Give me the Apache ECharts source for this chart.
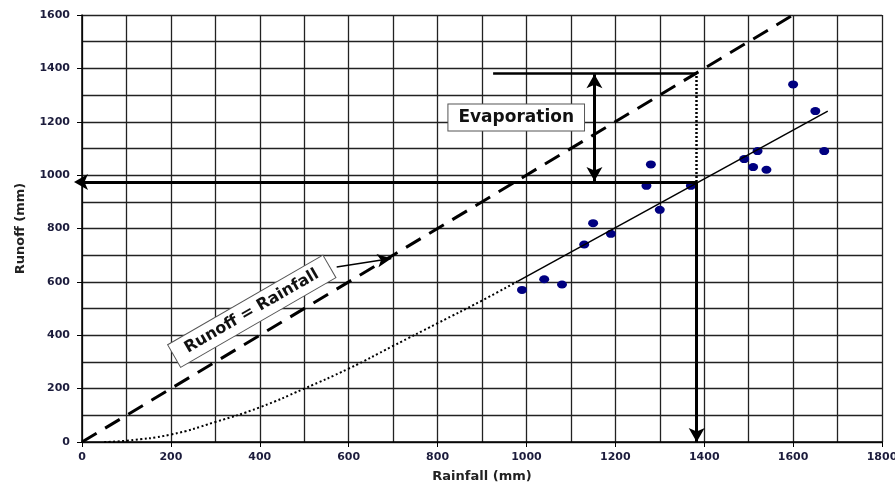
<!DOCTYPE html>
<html><head><meta charset="utf-8">
<script src="https://cdn.jsdelivr.net/npm/echarts@6/dist/echarts.min.js"></script>
<style>html,body{margin:0;padding:0;background:#fff}#c{width:895px;height:486px}</style>
</head><body><div id="c"></div>
<script>
// Observed data (Rainfall mm, Runoff mm)
const rainfall = [990, 1040, 1080, 1130, 1150, 1190, 1270, 1280, 1300, 1370, 1490, 1510, 1520, 1540, 1600, 1650, 1670];
const runoff   = [570, 610, 590, 740, 820, 780, 960, 1040, 870, 960, 1060, 1030, 1090, 1020, 1340, 1240, 1090];
// Fitted line (solid part)
const fitX = [980, 1678];
const fitY = [602, 1240];
// Extrapolated curve (dotted part)
const curveX = [50, 100, 200, 300, 400, 500, 600, 700, 800, 900, 980];
const curveY = [0, 5, 28, 75, 130, 200, 275, 360, 445, 530, 602];
// Runoff = Rainfall line
const oneToOneX = [0, 1595];
const oneToOneY = [0, 1595];
// Annotation anchor values
const meanRain = 1383, meanRunoff = 974, topLevel = 1382, topLineStart = 925;
const evapArrowX = 1153;
const xTicks = [0, 200, 400, 600, 800, 1000, 1200, 1400, 1600, 1800];
const yTicks = [0, 200, 400, 600, 800, 1000, 1200, 1400, 1600];

const pts = rainfall.map((x, i) => [x, runoff[i]]);
const fit = fitX.map((x, i) => [x, fitY[i]]);
const curve = curveX.map((x, i) => [x, curveY[i]]);
const diag = oneToOneX.map((x, i) => [x, oneToOneY[i]]);

const tickFont = {fontFamily: 'DejaVu Sans', fontWeight: 'bold', fontSize: 11, color: '#1c1c3c', formatter: v => String(v)};
const nameFont = {fontFamily: 'DejaVu Sans', fontWeight: 'bold', fontSize: 13, color: '#222'};

function arrowLine(p1, p2, s1, s2, style) {
  return [
    {coord: p1, symbol: s1, symbolSize: [12, 14]},
    {coord: p2, symbol: s2, symbolSize: [12, 14], lineStyle: style}
  ];
}
const thick = {color: '#000', width: 3, type: 'solid'};
const boxLabel = {
  show: true, position: 'inside',
  fontFamily: 'DejaVu Sans', fontWeight: 'bold', color: '#111',
  textBorderWidth: 0, textShadowBlur: 0,
  backgroundColor: '#fff', borderColor: '#555', borderWidth: 1
};

const chart = echarts.init(document.getElementById('c'));
chart.setOption({
  animation: false,
  grid: {left: 82, right: 13, top: 15, bottom: 44, containLabel: false, outerBoundsMode: 'none'},
  xAxis: {
    type: 'value', min: xTicks[0], max: xTicks[xTicks.length - 1], interval: 200,
    name: 'Rainfall (mm)', nameLocation: 'middle', nameGap: 28, nameTextStyle: nameFont,
    axisLine: {show: true, lineStyle: {color: '#000', width: 1.5}},
    axisTick: {show: true, length: 5, lineStyle: {color: '#000'}},
    axisLabel: Object.assign({margin: 10}, tickFont),
    splitLine: {show: true, lineStyle: {color: '#222', width: 1.3}},
    minorTick: {show: false, splitNumber: 2},
    minorSplitLine: {show: true, lineStyle: {color: '#222', width: 1.3}}
  },
  yAxis: {
    type: 'value', min: yTicks[0], max: yTicks[yTicks.length - 1], interval: 200,
    name: 'Runoff (mm)', nameLocation: 'middle', nameGap: 55, nameTextStyle: nameFont,
    axisLine: {show: true, lineStyle: {color: '#000', width: 1.5}},
    axisTick: {show: true, length: 5, lineStyle: {color: '#000'}},
    axisLabel: Object.assign({margin: 12}, tickFont),
    splitLine: {show: true, lineStyle: {color: '#222', width: 1.3}},
    minorTick: {show: false, splitNumber: 2},
    minorSplitLine: {show: true, lineStyle: {color: '#222', width: 1.3}}
  },
  series: [
    {
      type: 'line', data: diag, symbol: 'none', silent: true,
      lineStyle: {color: '#000', width: 3, type: [17, 10]}
    },
    {
      type: 'line', data: curve, symbol: 'none', smooth: true, silent: true,
      lineStyle: {color: '#000', width: 2, type: [2, 2.5]}
    },
    {
      type: 'line', data: fit, symbol: 'none', silent: true,
      lineStyle: {color: '#000', width: 1.5}
    },
    {
      type: 'scatter', data: pts, symbol: 'circle', symbolSize: [10, 8], clip: false,
      itemStyle: {color: '#000080', opacity: 1}, silent: true,
      markLine: {
        silent: true, animation: false,
        label: {show: false},
        emphasis: {disabled: true},
        data: [
          // horizontal arrow to runoff axis
          [
            {coord: [meanRain, meanRunoff], symbol: 'none'},
            {coord: [0, meanRunoff], symbol: 'arrow', symbolSize: [12, 14], symbolOffset: [0, -8], lineStyle: thick}
          ],
          // vertical arrow to rainfall axis
          arrowLine([meanRain, meanRunoff], [meanRain, 0], 'none', 'arrow', thick),
          // dotted vertical to top level
          arrowLine([meanRain, meanRunoff], [meanRain, topLevel], 'none', 'none', {color: '#000', width: 2.5, type: [2, 2]}),
          // top horizontal line
          arrowLine([topLineStart, topLevel], [meanRain, topLevel], 'none', 'none', {color: '#000', width: 2.5, type: 'solid'}),
          // evaporation double arrow
          arrowLine([evapArrowX, 1378], [evapArrowX, 978], 'arrow', 'arrow', thick),
          // pointer from label to 1:1 line
          [
            {coord: [573, 656], symbol: 'none'},
            {coord: [696, 688], symbol: 'arrow', symbolSize: [10, 14], lineStyle: {color: '#000', width: 1.5, type: 'solid'}}
          ]
        ]
      }
    },
    {
      type: 'scatter', silent: true, symbolSize: 0, itemStyle: {color: '#fff', opacity: 1},
      data: [[977, 1216]],
      label: Object.assign({}, boxLabel, {formatter: 'Evaporation', fontSize: 17, padding: [5, 10, 4, 10]})
    },
    {
      type: 'scatter', silent: true, symbolSize: 0, itemStyle: {color: '#fff', opacity: 1},
      data: [[382, 490]],
      label: Object.assign({}, boxLabel, {formatter: 'Runoff = Rainfall', rotate: 30, fontSize: 16, padding: [5, 13, 4, 13]})
    }
  ]
});
</script>
</body></html>
